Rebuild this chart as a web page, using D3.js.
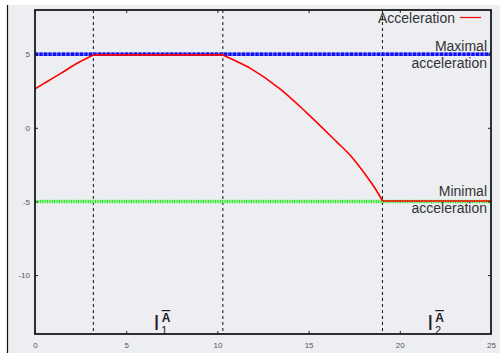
<!DOCTYPE html>
<html><head><meta charset="utf-8">
<script src="https://cdn.jsdelivr.net/npm/d3@7"></script>
<style>
html,body{margin:0;padding:0;background:#fff;}
svg{display:block;}
text{font-family:"Liberation Sans",Arial,sans-serif;}
</style></head>
<body>
<script>
// ---- data ----
const accelT = [0, 0.45, 1.37, 2.29, 3.2, 10.3, 10.87, 11.79, 13.43, 14.9, 16.54, 17.27, 18.19, 18.64, 19.06, 25];
const accelV = [2.65, 2.98, 3.66, 4.37, 4.95, 4.95, 4.62, 4.05, 2.65, 1.02, -0.95, -1.85, -3.3, -4.1, -4.97, -4.97];
const maxAccel = 5;
const minAccel = -5;
const switchTimes = [3.2, 10.3, 19.05];
const xTicks = [0, 5, 10, 15, 20, 25];
const yTicks = [5, 0, -5, -10];
const intervalLabels = ["1", "2"];
const intervalLabelX = [6.5, 21.5];
const legendLabel = "Acceleration";
const maxLabel = ["Maximal", "acceleration"];
const minLabel = ["Minimal", "acceleration"];

const W = 500, H = 353;
const svg = d3.select("body").append("svg").attr("width", W).attr("height", H);
// backgrounds
svg.append("rect").attr("x", 7).attr("y", 5).attr("width", W - 7).attr("height", H - 5).attr("fill", "#eceef2");
svg.append("line").attr("x1", 7.5).attr("x2", 7.5).attr("y1", 5).attr("y2", H).attr("stroke", "#111").attr("stroke-width", 1.2);

const x = d3.scaleLinear().domain([0, 25]).range([35, 491]);
const y = d3.scaleLinear().domain([-14, 8]).range([334, 10]);

const g = svg.append("g");

// dashed verticals
g.selectAll("line.sw").data(switchTimes).enter().append("line")
  .attr("x1", d => x(d)).attr("x2", d => x(d)).attr("y1", y(8)).attr("y2", y(-14))
  .attr("stroke", "#111").attr("stroke-width", 1).attr("stroke-dasharray", "3,3");

// max line (blue)
g.append("line").attr("x1", x(0)).attr("x2", x(25)).attr("y1", y(maxAccel)).attr("y2", y(maxAccel))
  .attr("stroke", "#7070ff").attr("stroke-width", 3.5);
g.append("line").attr("x1", x(0)).attr("x2", x(25)).attr("y1", y(maxAccel)).attr("y2", y(maxAccel))
  .attr("stroke", "#1010f0").attr("stroke-width", 3.5).attr("stroke-dasharray", "3,1.5");
// min line (green)
g.append("line").attr("x1", x(0)).attr("x2", x(25)).attr("y1", y(minAccel)).attr("y2", y(minAccel))
  .attr("stroke", "#a8f5a8").attr("stroke-width", 3);
g.append("line").attr("x1", x(0)).attr("x2", x(25)).attr("y1", y(minAccel)).attr("y2", y(minAccel))
  .attr("stroke", "#22e022").attr("stroke-width", 3.5).attr("stroke-dasharray", "1,1.4");

// acceleration curve: split into pieces at the switch points so corners stay sharp
const pts = accelT.map((t, i) => [t, accelV[i]]);
const bounds = [0, switchTimes[0], switchTimes[1], switchTimes[2], 25];
const lineGen = d3.line().x(d => x(d[0])).y(d => y(d[1])).curve(d3.curveCatmullRom.alpha(0.5));
for (let k = 0; k < bounds.length - 1; k++) {
  const seg = pts.filter(p => p[0] >= bounds[k] - 0.06 && p[0] <= bounds[k + 1] + 0.06);
  g.append("path").datum(seg).attr("d", lineGen)
    .attr("fill", "none").attr("stroke", "#ff0000").attr("stroke-width", 1.6).attr("stroke-linejoin", "round");
}

// axes (ticks inward)
const tickFont = g => g.selectAll("text").attr("font-size", 8).attr("fill", "#555").attr("font-family", "DejaVu Sans, sans-serif");
const axL = g.append("g").attr("transform", `translate(${x(0)},0)`)
  .call(d3.axisLeft(y).tickValues(yTicks).tickSize(-3).tickPadding(5).tickFormat(d3.format("d")));
const axB = g.append("g").attr("transform", `translate(0,${y(-14)})`)
  .call(d3.axisBottom(x).tickValues(xTicks).tickSize(-3).tickPadding(8).tickFormat(d3.format("d")));
const axT = g.append("g").attr("transform", `translate(0,${y(8)})`)
  .call(d3.axisTop(x).tickValues(xTicks).tickSize(-3).tickFormat(""));
const axR = g.append("g").attr("transform", `translate(${x(25)},0)`)
  .call(d3.axisRight(y).tickValues(yTicks).tickSize(-3).tickFormat(""));
[axL, axB, axT, axR].forEach(a => {
  a.select(".domain").remove();
  a.selectAll(".tick line").attr("stroke", "#222").attr("stroke-width", 1);
  tickFont(a);
});
axL.selectAll("text").text(d => d < 0 ? "-" + Math.abs(d) : d);

// frame
g.append("rect").attr("x", x(0)).attr("y", y(8)).attr("width", x(25) - x(0)).attr("height", y(-14) - y(8))
  .attr("fill", "none").attr("stroke", "#1a1a1a").attr("stroke-width", 1.8);

// legend
const lg = svg.append("g");
lg.append("text").attr("x", 455).attr("y", 23).attr("text-anchor", "end")
  .attr("font-size", 14).attr("fill", "#333").text(legendLabel);
lg.append("line").attr("x1", 460).attr("x2", 481).attr("y1", 17.5).attr("y2", 17.5)
  .attr("stroke", "#ff0000").attr("stroke-width", 1.2);

// max/min annotations
maxLabel.forEach((s, i) => {
  svg.append("text").attr("x", 487).attr("y", y(maxAccel) - 3 + i * 17).attr("text-anchor", "end")
    .attr("font-size", 14).attr("fill", "#333").text(s);
});
minLabel.forEach((s, i) => {
  svg.append("text").attr("x", 487).attr("y", y(minAccel) - 5 + i * 16.5).attr("text-anchor", "end")
    .attr("font-size", 14).attr("fill", "#333").text(s);
});

// interval labels I_k^{Ā}
intervalLabels.forEach((lab, i) => {
  const px = x(intervalLabelX[i]);
  const t = svg.append("text").attr("x", px).attr("y", 330).attr("fill", "#222");
  t.append("tspan").attr("font-size", 22).text("I");
  t.append("tspan").attr("font-size", 12).attr("font-weight", "bold").attr("dx", 2).attr("dy", -8)
    .attr("text-decoration", "overline").text("A");
  t.append("tspan").attr("font-size", 11).attr("dx", -9).attr("dy", 12).text(lab);
});
</script>
</body></html>
